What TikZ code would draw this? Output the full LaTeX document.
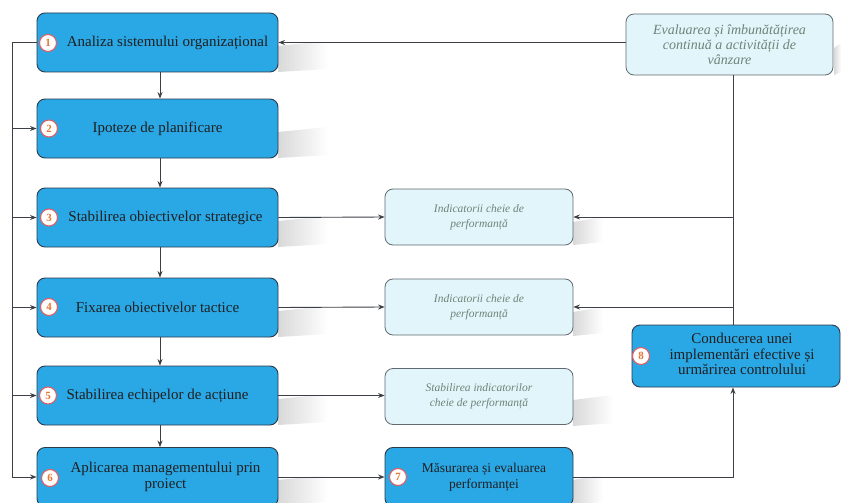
\documentclass[tikz,border=0pt]{standalone}
\usepackage{fontspec}
\setmainfont{Liberation Serif}
\usetikzlibrary{arrows.meta}

\definecolor{stepblue}{RGB}{42,168,230}
\definecolor{stepedge}{RGB}{44,58,74}
\definecolor{notefill}{RGB}{226,245,250}
\definecolor{noteedge}{RGB}{96,106,112}
\definecolor{notetext}{RGB}{112,130,120}
\definecolor{badgering}{RGB}{222,96,100}
\definecolor{badgenum}{RGB}{232,118,50}
\definecolor{wire}{RGB}{60,64,70}

% soft cast shadow to the right of a box: right edge x, start y, bottom y, length
\newcommand\castshade[4]{%
  \shade[left color=black!15, right color=white]
    (#1,#2) -- (#1+#4,#2-5) -- (#1+#4,#3-3) -- (#1,#3) -- cycle;}

\tikzset{
  stepbox/.style={draw=stepedge, line width=0.9pt, fill=stepblue,
    rounded corners=8pt, minimum width=241pt, minimum height=59pt,
    inner sep=2pt, text=black!88, font=\fontsize{15}{18}\selectfont},
  notebox/.style={draw=noteedge, line width=0.8pt, fill=notefill,
    rounded corners=8pt, minimum width=188pt, minimum height=56pt,
    align=center, text=notetext, font=\itshape\fontsize{11.5}{15}\selectfont},
  badge/.style={circle, draw=badgering, line width=1.1pt, fill=white,
    inner sep=0pt, minimum size=17pt, text=badgenum,
    font=\bfseries\fontsize{11}{11}\selectfont},
  link/.style={draw=wire, line width=0.9pt, -{Stealth[length=6.5pt,width=5pt]}},
  wireline/.style={draw=wire, line width=0.9pt},
}

\begin{document}
\begin{tikzpicture}[x=1pt,y=-1pt]
\clip (0,0) rectangle (841,503);
\fill[white] (0,0) rectangle (841,503);

% shadows behind the boxes
\castshade{278}{46}{72}{50}
\castshade{278}{132}{158}{50}
\castshade{278}{221}{247}{50}
\castshade{278}{311}{337}{50}
\castshade{278}{399}{425}{50}
\castshade{278}{480}{505}{50}
\castshade{573}{222}{245}{30}
\castshade{573}{312}{336}{30}
\castshade{573}{400}{426}{40}
\castshade{573}{480}{505}{30}
\castshade{834}{48}{75}{7}

% main chain of steps
\node[stepbox] (s1) at (157.5,42.5) {\hspace*{20pt}Analiza sistemului organizațional};
\node[stepbox] (s2) at (157.5,128.5) {Ipoteze de planificare};
\node[stepbox] (s3) at (157.5,217.5) {\hspace*{16pt}Stabilirea obiectivelor strategice};
\node[stepbox] (s4) at (157.5,307.5) {Fixarea obiectivelor tactice};
\node[stepbox] (s5) at (157.5,395.5) {Stabilirea echipelor de acțiune};
\node[stepbox] (s6) at (157.5,477) {\hspace*{16pt}\begin{tabular}{@{}c@{}}Aplicarea managementului prin\\[-2pt] proiect\end{tabular}};

% indicator boxes
\node[notebox] (n1) at (479,217) {Indicatorii cheie de\\ performanță};
\node[notebox] (n2) at (479,307) {Indicatorii cheie de\\ performanță};
\node[notebox] (n3) at (479,396.5) {Stabilirea indicatorilor\\ cheie de performanță};

% measuring, implementation and feedback
\node[stepbox, minimum width=188pt, font=\fontsize{13.5}{16}\selectfont] (s7) at (479,477)
  {\hspace*{10pt}\begin{tabular}{@{}c@{}}Măsurarea și evaluarea\\ performanței\end{tabular}};
\node[stepbox, minimum width=208pt, minimum height=62pt, font=\fontsize{15}{15}\selectfont] (s8) at (736,356)
  {\hspace*{12pt}\begin{tabular}{@{}c@{}}Conducerea unei\\ implementări efective și\\ urmărirea controlului\end{tabular}};
\node[notebox, minimum width=207pt, minimum height=61pt, font=\itshape\fontsize{14}{15}\selectfont] (tr) at (729.5,44.5)
  {Evaluarea și îmbunătățirea\\ continuă a activității de\\ vânzare};

% numbered badges
\node[badge] (b1) at (48,43) {1};
\node[badge] (b2) at (49,128.5) {2};
\node[badge] (b3) at (49,217.5) {3};
\node[badge] (b4) at (49,307) {4};
\node[badge] (b5) at (48,395.5) {5};
\node[badge] (b6) at (50,478) {6};
\node[badge] (b7) at (398,477) {7};
\node[badge] (b8) at (641,356) {8};

% bus lines
\coordinate (lx) at (12,0);
\coordinate (vx) at (733,0);

% vertical flow between steps
\draw[link] (s1.south -| 160,0) -- (s2.north -| 160,0);
\draw[link] (s2.south -| 160,0) -- (s3.north -| 160,0);
\draw[link] (s3.south -| 160,0) -- (s4.north -| 160,0);
\draw[link] (s4.south -| 160,0) -- (s5.north -| 160,0);
\draw[link] (s5.south -| 160,0) -- (s6.north -| 160,0);

% left feedback bus
\draw[wireline] (s1.west) -- (lx |- s1.west) -- (lx |- s6.west);
\draw[link] (lx |- s2.west) -- (s2.west);
\draw[link] (lx |- s3.west) -- (s3.west);
\draw[link] (lx |- s4.west) -- (s4.west);
\draw[link] (lx |- s5.west) -- (s5.west);
\draw[link] (lx |- s6.west) -- (s6.west);

% steps to indicators
\draw[link] (s3.east) -- (n1.west);
\draw[link] (s4.east) -- (n2.west);
\draw[link] (s5.east) -- (n3.west |- s5.east);
\draw[link] (s6.east) -- (s7.west);

% right-hand bus
\draw[wireline] (tr.south -| vx) -- (s8.north -| vx);
\draw[link] (vx |- n1.east) -- (n1.east);
\draw[link] (vx |- n2.east) -- (n2.east);
\draw[link] (s7.east) -| (s8.south -| vx);
\draw[link] (tr.west |- s1.east) -- (s1.east);
\end{tikzpicture}
\end{document}
